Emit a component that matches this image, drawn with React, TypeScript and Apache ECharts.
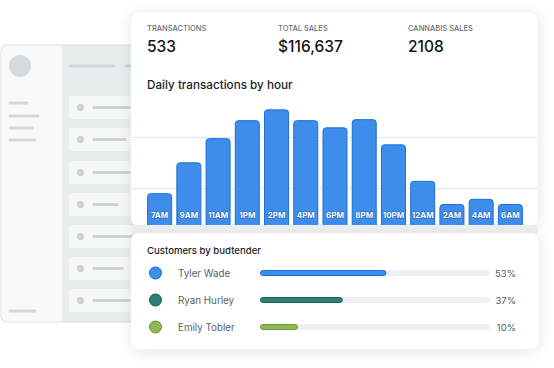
import React, { useEffect, useRef } from 'react';
import * as echarts from 'echarts';

// ---- data ----
const hours = ['7AM', '9AM', '11AM', '1PM', '2PM', '4PM', '6PM', '8PM', '10PM', '12AM', '2AM', '4AM', '6AM'];
const transactionsByHour = [91, 151, 198, 233, 254, 233, 219, 235, 186, 115, 70, 80, 70];
const statLabels = ['TRANSACTIONS', 'TOTAL SALES', 'CANNABIS SALES'];
const statValues = ['533', '$116,637', '2108'];
const budtenders = ['Tyler Wade', 'Ryan Hurley', 'Emily Tobler'];
const budtenderShare = [53, 37, 10];
// bar lengths as drawn in the picture (percent of track)
const budtenderBarLength = [55, 36, 16.5];
const budtenderColors = ['#3d8de9', '#2e8173', '#8fba52'];
const budtenderBorders = ['#1f6fd0', '#1c5f54', '#6f9a3a'];

const FONT = 'Inter, "Noto Sans", sans-serif';

function panelElements(): any[] {
  const els: any[] = [];
  els.push({ type: 'rect', z: 0, shape: { x: 1, y: 45, width: 140, height: 277, r: 6 }, style: { fill: '#e8edef', stroke: '#d9dfe2', lineWidth: 1 } });
  els.push({ type: 'rect', z: 0, shape: { x: 1.5, y: 45.5, width: 60.5, height: 276, r: [6, 0, 0, 6] }, style: { fill: '#f7f9fa' } });
  els.push({ type: 'circle', z: 0, shape: { cx: 20, cy: 66, r: 11 }, style: { fill: '#d4dadd' } });
  const side = [[103, 27], [116, 38], [128, 32], [140, 35], [311, 35]];
  side.forEach(([y, x2]) => els.push({ type: 'line', z: 0, shape: { x1: 10, y1: y, x2, y2: y }, style: { stroke: '#d3d9dc', lineWidth: 3, lineCap: 'round' } }));
  els.push({ type: 'line', z: 0, shape: { x1: 70, y1: 66, x2: 114, y2: 66 }, style: { stroke: '#cfd6d9', lineWidth: 3, lineCap: 'round' } });
  els.push({ type: 'line', z: 0, shape: { x1: 126, y1: 66, x2: 140, y2: 66 }, style: { stroke: '#cfd6d9', lineWidth: 3, lineCap: 'round' } });
  const rows = [[96, 135], [128, 125], [161, 135], [193, 117], [225, 135], [257, 122], [289, 130]];
  rows.forEach(([y, x2]) => {
    els.push({ type: 'rect', z: 0, shape: { x: 69, y, width: 75, height: 23, r: 3 }, style: { fill: '#f5f7f8' } });
    els.push({ type: 'circle', z: 0, shape: { cx: 80.5, cy: y + 11.5, r: 3.7 }, style: { fill: '#cdd4d8' } });
    els.push({ type: 'line', z: 0, shape: { x1: 94, y1: y + 11.5, x2, y2: y + 11.5 }, style: { stroke: '#cdd4d8', lineWidth: 3, lineCap: 'round' } });
  });
  return els;
}

function txt(text: string, x: number, y: number, size: number, color: string, weight: any, z = 20): any {
  return {
    type: 'text', z, x, y,
    style: { text, fill: color, fontSize: size, fontWeight: weight, fontFamily: FONT, textAlign: 'left', textVerticalAlign: 'middle', align: 'left', verticalAlign: 'middle' },
  };
}

export default function App() {
  const ref = useRef<HTMLDivElement>(null);
  useEffect(() => {
    if (!ref.current) return;
    const chart = echarts.init(ref.current, undefined, { renderer: 'svg' });

    const statX = [147, 278, 408];
    const graphics: any[] = [
      ...panelElements(),
      // top card
      { type: 'rect', z: 1, shape: { x: 131, y: 12, width: 407, height: 214, r: 8 }, style: { fill: '#ffffff', stroke: '#eceef0', lineWidth: 0.6, shadowBlur: 14, shadowColor: 'rgba(20,30,40,0.10)', shadowOffsetY: 2 } },
      // strip under top card (covers bar bottoms)
      { type: 'rect', z: 10, shape: { x: 131, y: 225, width: 407, height: 9 }, style: { fill: '#eef0f2' } },
      // bottom card
      { type: 'rect', z: 10, shape: { x: 131, y: 233, width: 408, height: 116, r: 8 }, style: { fill: '#ffffff', stroke: '#eceef0', lineWidth: 0.6, shadowBlur: 14, shadowColor: 'rgba(20,30,40,0.10)', shadowOffsetY: 2 } },
      ...statLabels.map((t, i) => txt(t, statX[i], 28, 7.5, '#6b7178', 500)),
      ...statValues.map((t, i) => txt(t, statX[i], 46, 15.5, '#121519', 500)),
      txt('Daily transactions by hour', 147, 85, 11.7, '#1d2126', 500),
      txt('Customers by budtender', 147, 250, 9.6, '#1d2126', 500),
    ];

    const dotRich: any = {};
    budtenderColors.forEach((c, i) => {
      dotRich['d' + i] = { width: 11, height: 11, borderRadius: 6, backgroundColor: c, borderColor: budtenderBorders[i], borderWidth: 1, verticalAlign: 'middle' };
    });
    dotRich.n = { fontSize: 9.8, color: '#5a6168', fontFamily: FONT, padding: [0, 0, 0, 17], verticalAlign: 'middle' };

    chart.setOption({
      animation: false,
      textStyle: { fontFamily: FONT },
      graphic: { elements: graphics },
      grid: [
        // gridlines spanning the card
        { left: 132, width: 405, top: 96, height: 144, outerBoundsMode: 'none', containLabel: false },
        // hourly bars
        { left: 145, width: 380, top: 96, height: 144, outerBoundsMode: 'none', containLabel: false },
        // budtender progress bars
        { left: 260, width: 230, top: 259.5, height: 81, outerBoundsMode: 'none', containLabel: false },
      ],
      xAxis: [
        { gridIndex: 0, type: 'value', min: 0, max: 1, show: false },
        { gridIndex: 1, type: 'category', data: hours, show: false },
        { gridIndex: 2, type: 'value', min: 0, max: 100, show: false },
      ],
      yAxis: [
        {
          gridIndex: 0, type: 'value', min: 0, max: 280, interval: 100, z: 2,
          axisLabel: { show: false }, axisLine: { show: false }, axisTick: { show: false },
          splitLine: { show: true, showMinLine: false, showMaxLine: false, lineStyle: { color: '#e2e5e8', width: 1 } },
        },
        { gridIndex: 1, type: 'value', min: 0, max: 280, show: false, splitLine: { show: false } },
        {
          gridIndex: 2, type: 'category', data: budtenders, inverse: true, z: 20,
          axisLine: { show: false }, axisTick: { show: false },
          axisLabel: {
            align: 'left', margin: 110,
            formatter: (v: string, i: number) => `{d${i}|}{n|${v}}`,
            rich: dotRich,
          },
        },
        {
          gridIndex: 2, type: 'category', position: 'right', inverse: true, z: 20,
          data: budtenderShare.map((v) => v + '%'),
          axisLine: { show: false }, axisTick: { show: false },
          axisLabel: { align: 'right', margin: 26, fontSize: 9.5, color: '#50575f', fontFamily: FONT },
        },
      ],
      series: [
        {
          type: 'bar', xAxisIndex: 1, yAxisIndex: 1, z: 3,
          data: transactionsByHour, barWidth: 25,
          itemStyle: { color: '#3e8deb', borderColor: '#1d6fd6', borderWidth: 1, borderRadius: [3, 3, 0, 0] },
          label: {
            show: true, position: 'insideBottom', distance: 21, formatter: '{b}',
            color: '#ffffff', fontSize: 8, fontWeight: 'bold', fontFamily: FONT,
            textBorderColor: 'rgba(20,70,140,0.6)', textBorderWidth: 1,
          },
        },
        {
          type: 'bar', xAxisIndex: 2, yAxisIndex: 2, z: 20,
          data: budtenderBarLength.map((v, i) => ({ value: v, itemStyle: { color: budtenderColors[i], borderColor: budtenderBorders[i] } })),
          barWidth: 6,
          showBackground: true,
          backgroundStyle: { color: '#edf0f4', borderRadius: 3 },
          itemStyle: { borderWidth: 1, borderRadius: 3 },
        },
      ],
    });
    return () => chart.dispose();
  }, []);

  return <div ref={ref} style={{ position: 'fixed', left: 0, top: 0, width: 554, height: 368, background: '#ffffff' }} />;
}
